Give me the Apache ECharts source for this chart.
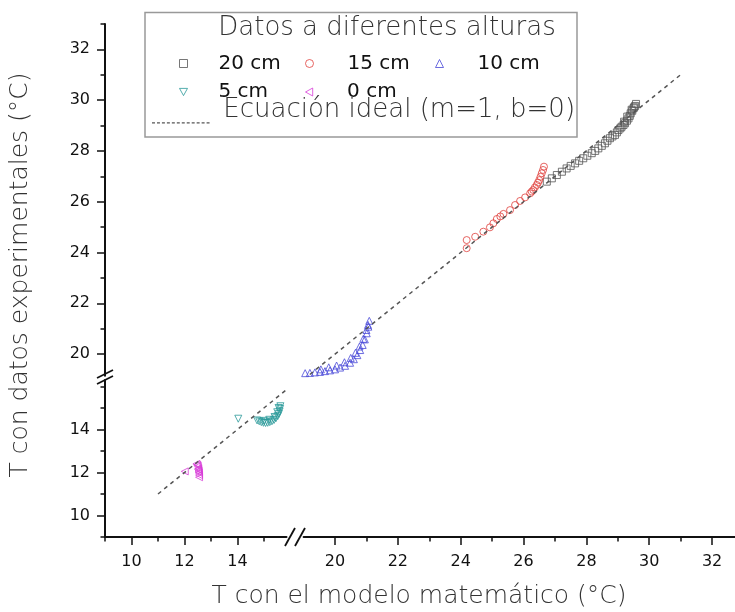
<!DOCTYPE html>
<html>
<head>
<meta charset="utf-8">
<script src="https://cdn.jsdelivr.net/npm/echarts@6/dist/echarts.min.js"></script>
<style>
html, body { margin: 0; padding: 0; background: #fff; }
#chart { width: 735px; height: 612px; }
</style>
</head>
<body>
<div id="chart"></div>
<script>
// --- data ---
var x20 = [26.74, 26.90, 27.06, 27.22, 27.37, 27.50, 27.64, 27.77, 27.90, 28.03, 28.17, 28.28, 28.38, 28.49, 28.59, 28.67, 28.75, 28.83, 28.91, 28.97, 29.02, 29.08, 29.12, 29.18, 29.23, 29.29, 29.34, 29.38, 29.41, 29.46, 29.50, 29.55, 29.58, 29.20, 29.30, 29.44, 29.52];
var y20 = [26.79, 26.92, 27.05, 27.18, 27.31, 27.41, 27.51, 27.61, 27.71, 27.81, 27.91, 28.00, 28.10, 28.20, 28.30, 28.40, 28.50, 28.57, 28.63, 28.73, 28.82, 28.89, 28.95, 29.02, 29.09, 29.19, 29.28, 29.38, 29.48, 29.58, 29.68, 29.77, 29.85, 29.15, 29.35, 29.62, 29.72];

var x15 = [24.19, 24.19, 24.46, 24.72, 24.93, 25.04, 25.15, 25.26, 25.36, 25.57, 25.73, 25.89, 26.05, 26.21, 26.26, 26.31, 26.36, 26.42, 26.46, 26.50, 26.54, 26.58, 26.62, 26.65];
var y15 = [24.17, 24.49, 24.62, 24.82, 24.99, 25.15, 25.32, 25.42, 25.52, 25.67, 25.87, 26.03, 26.17, 26.33, 26.40, 26.46, 26.56, 26.66, 26.75, 26.85, 26.98, 27.12, 27.25, 27.38];

var x10 = [19.05, 19.20, 19.36, 19.52, 19.68, 19.84, 20.00, 20.16, 20.32, 20.48, 20.60, 20.71, 20.80, 20.88, 20.95, 21.01, 21.06, 21.09, 19.55, 19.80, 20.05, 20.30, 20.50, 20.65, 20.78, 20.90, 21.00, 21.05];
var y10 = [19.25, 19.26, 19.28, 19.30, 19.33, 19.36, 19.40, 19.47, 19.54, 19.66, 19.80, 19.96, 20.16, 20.36, 20.58, 20.82, 21.08, 21.31, 19.40, 19.48, 19.55, 19.68, 19.85, 20.05, 20.30, 20.60, 20.95, 21.15];

var x5 = [14.03, 14.74, 14.82, 14.90, 14.98, 15.06, 15.14, 15.22, 15.30, 15.38, 15.45, 15.52, 15.56, 15.59, 15.61, 15.62, 15.00, 15.20, 15.40, 15.50, 15.55];
var y5 = [14.50, 14.42, 14.38, 14.34, 14.31, 14.30, 14.31, 14.34, 14.38, 14.44, 14.52, 14.62, 14.72, 14.84, 14.96, 15.08, 14.40, 14.45, 14.58, 14.80, 15.00];

var x0 = [12.01, 12.45, 12.48, 12.50, 12.51, 12.52, 12.53, 12.53, 12.54, 12.55, 12.55];
var y0 = [12.05, 12.40, 12.35, 12.30, 12.15, 12.20, 12.10, 12.03, 11.98, 11.88, 11.78];

// ideal line y = x, from .. to
var idealEnds = [11, 31];

// broken axes: low part and high part
var lowX = [9, 15.85], lowY = [9, 16.3];
var highX = [19, 33], highY = [19.15, 33];

// tick values
var lowMajor = [10, 12, 14];
var lowMinorX = [9, 11, 13, 15];
var lowMinorY = [9, 11, 13, 15, 16];
var highMajor = [20, 22, 24, 26, 28, 30, 32];
var highMinorX = [21, 23, 25, 27, 29, 31];
var highMinorY = [21, 23, 25, 27, 29, 31, 33];

var FONT = 'DejaVu Sans';
var IDEAL = 'Ecuación ideal (m=1, b=0)';

// marker shapes (down / left pointing triangles)
var TRI_DOWN = 'path://M0,0 L10,0 L5,9 Z';
var TRI_LEFT = 'path://M9,0 L9,10 L0,5 Z';

function pairs(xs, ys) {
  return xs.map(function (x, i) { return [x, ys[i]]; });
}

function axis(gridIndex, range, ticks, major, position, offset, margin) {
  return {
    type: 'value',
    gridIndex: gridIndex,
    position: position,
    offset: offset,
    min: range[0],
    max: range[1],
    splitLine: { show: false },
    axisLine: { show: major, onZero: false, lineStyle: { color: '#111', width: 2 } },
    axisTick: { show: true, inside: false, customValues: ticks, length: major ? 8 : 4.5,
                lineStyle: { color: '#111', width: 1.5 } },
    axisLabel: major
      ? { show: true, customValues: ticks, margin: margin, color: '#111', fontFamily: FONT, fontSize: 16 }
      : { show: false }
  };
}

function scatter(name, xs, ys, axisIdx, symbol, color) {
  return {
    name: name,
    type: 'scatter',
    xAxisIndex: axisIdx,
    yAxisIndex: axisIdx,
    data: pairs(xs, ys),
    symbol: symbol,
    symbolSize: 7,
    clip: false,
    itemStyle: { color: 'rgba(0,0,0,0)', borderColor: color, borderWidth: 1 }
  };
}

function ideal(axisIdx, from, to) {
  return {
    name: IDEAL,
    type: 'line',
    xAxisIndex: axisIdx,
    yAxisIndex: axisIdx,
    data: [[from, from], [to, to]],
    symbol: 'none',
    clip: true,
    itemStyle: { color: '#555' },
    lineStyle: { color: '#555', width: 1.5, type: [4, 4] }
  };
}

// one legend per entry: symbol centre (cx, cy) and where its text starts (tx)
function legendItem(name, cx, cy, tx) {
  return {
    data: [name],
    left: cx - 4, top: cy - 10, padding: 0,
    itemWidth: 8, itemHeight: 8, selectedMode: false,
    itemStyle: { borderWidth: 1 },
    textStyle: { fontFamily: FONT, fontSize: 20, lineHeight: 20, color: '#111',
                 padding: [0, 0, 0, tx - cx - 9] }
  };
}

// dashed legend line drawn at the bottom of a tall icon box
var dashPath = 'path://M0,0 L0.01,0 L0,0.01 Z';
for (var d = 0; d < 60; d += 5) dashPath += ' M' + d + ',25 h3 v1.2 h-3 Z';

var chart = echarts.init(document.getElementById('chart'));

// pixel layout of the two plot pieces
var lowGrid = { left: 105, top: 380, width: 181.5, height: 157 };
var highGrid = { left: 303.6, top: 23.9, width: 439.9, height: 351.8 };
var xOff = (lowGrid.top + lowGrid.height) - (highGrid.top + highGrid.height);
var yOff = highGrid.left - lowGrid.left;

chart.setOption({
  animation: false,
  backgroundColor: '#fff',
  grid: [
    Object.assign({ outerBoundsMode: 'none', containLabel: false }, lowGrid),
    Object.assign({ outerBoundsMode: 'none', containLabel: false }, highGrid)
  ],
  xAxis: [
    axis(0, lowX, lowMajor, true, 'bottom', 0, 17),
    axis(0, lowX, lowMinorX, false, 'bottom', 0),
    axis(1, highX, highMajor, true, 'bottom', xOff, 17),
    axis(1, highX, highMinorX, false, 'bottom', xOff)
  ],
  yAxis: [
    axis(0, lowY, lowMajor, true, 'left', 0, 15),
    axis(0, lowY, lowMinorY, false, 'left', 0),
    axis(1, highY, highMajor, true, 'left', yOff, 15),
    axis(1, highY, highMinorY, false, 'left', yOff)
  ],
  legend: [
    legendItem('20 cm', 183, 63.5, 218),
    legendItem('15 cm', 309, 63.5, 347),
    legendItem('10 cm', 439, 63.5, 477),
    legendItem('5 cm', 183, 92, 218),
    legendItem('0 cm', 309, 92, 347),
    {
      data: [{ name: IDEAL, icon: dashPath }],
      left: 152, top: 97.5, padding: 0,
      itemWidth: 61, itemHeight: 26, selectedMode: false,
      itemStyle: { borderWidth: 0 },
      textStyle: { fontFamily: FONT, fontSize: 26, lineHeight: 26, color: '#333', fontWeight: 300,
                   padding: [0, 0, 0, 7] }
    }
  ],
  graphic: [
    { type: 'rect', shape: { x: 145, y: 12.5, width: 432, height: 124.5 },
      style: { fill: 'none', stroke: '#999', lineWidth: 1.5 }, z: 1 },
    { type: 'text', x: 387, y: 28,
      style: { text: 'Datos a diferentes alturas', fontFamily: FONT, fontSize: 26, fontWeight: 300,
               fill: '#333', textAlign: 'center', textVerticalAlign: 'middle' } },
    { type: 'text', x: 419, y: 596,
      style: { text: 'T con el modelo matemático (°C)', fontFamily: FONT, fontSize: 25, fontWeight: 300,
               fill: '#333', textAlign: 'center', textVerticalAlign: 'middle' } },
    { type: 'text', x: 20, y: 275, rotation: Math.PI / 2,
      style: { text: 'T con datos experimentales (°C)', fontFamily: FONT, fontSize: 25, fontWeight: 300,
               fill: '#333', textAlign: 'center', textVerticalAlign: 'middle' } },
    // axis break marks
    { type: 'line', shape: { x1: 285, y1: 546, x2: 295, y2: 528 }, style: { stroke: '#111', lineWidth: 1.8 } },
    { type: 'line', shape: { x1: 295, y1: 546, x2: 305, y2: 528 }, style: { stroke: '#111', lineWidth: 1.8 } },
    { type: 'line', shape: { x1: 97, y1: 384, x2: 113, y2: 376 }, style: { stroke: '#111', lineWidth: 1.8 } },
    { type: 'line', shape: { x1: 97, y1: 378, x2: 113, y2: 370 }, style: { stroke: '#111', lineWidth: 1.8 } }
  ],
  series: [
    scatter('20 cm', x20, y20, 2, 'rect', '#555'),
    scatter('15 cm', x15, y15, 2, 'circle', '#e0403c'),
    scatter('10 cm', x10, y10, 2, 'triangle', '#4848d8'),
    scatter('5 cm', x5, y5, 0, TRI_DOWN, '#2a9a9a'),
    scatter('0 cm', x0, y0, 0, TRI_LEFT, '#d83cd8'),
    ideal(0, idealEnds[0], lowY[1]),
    ideal(2, highX[0], idealEnds[1])
  ]
});
</script>
</body>
</html>
